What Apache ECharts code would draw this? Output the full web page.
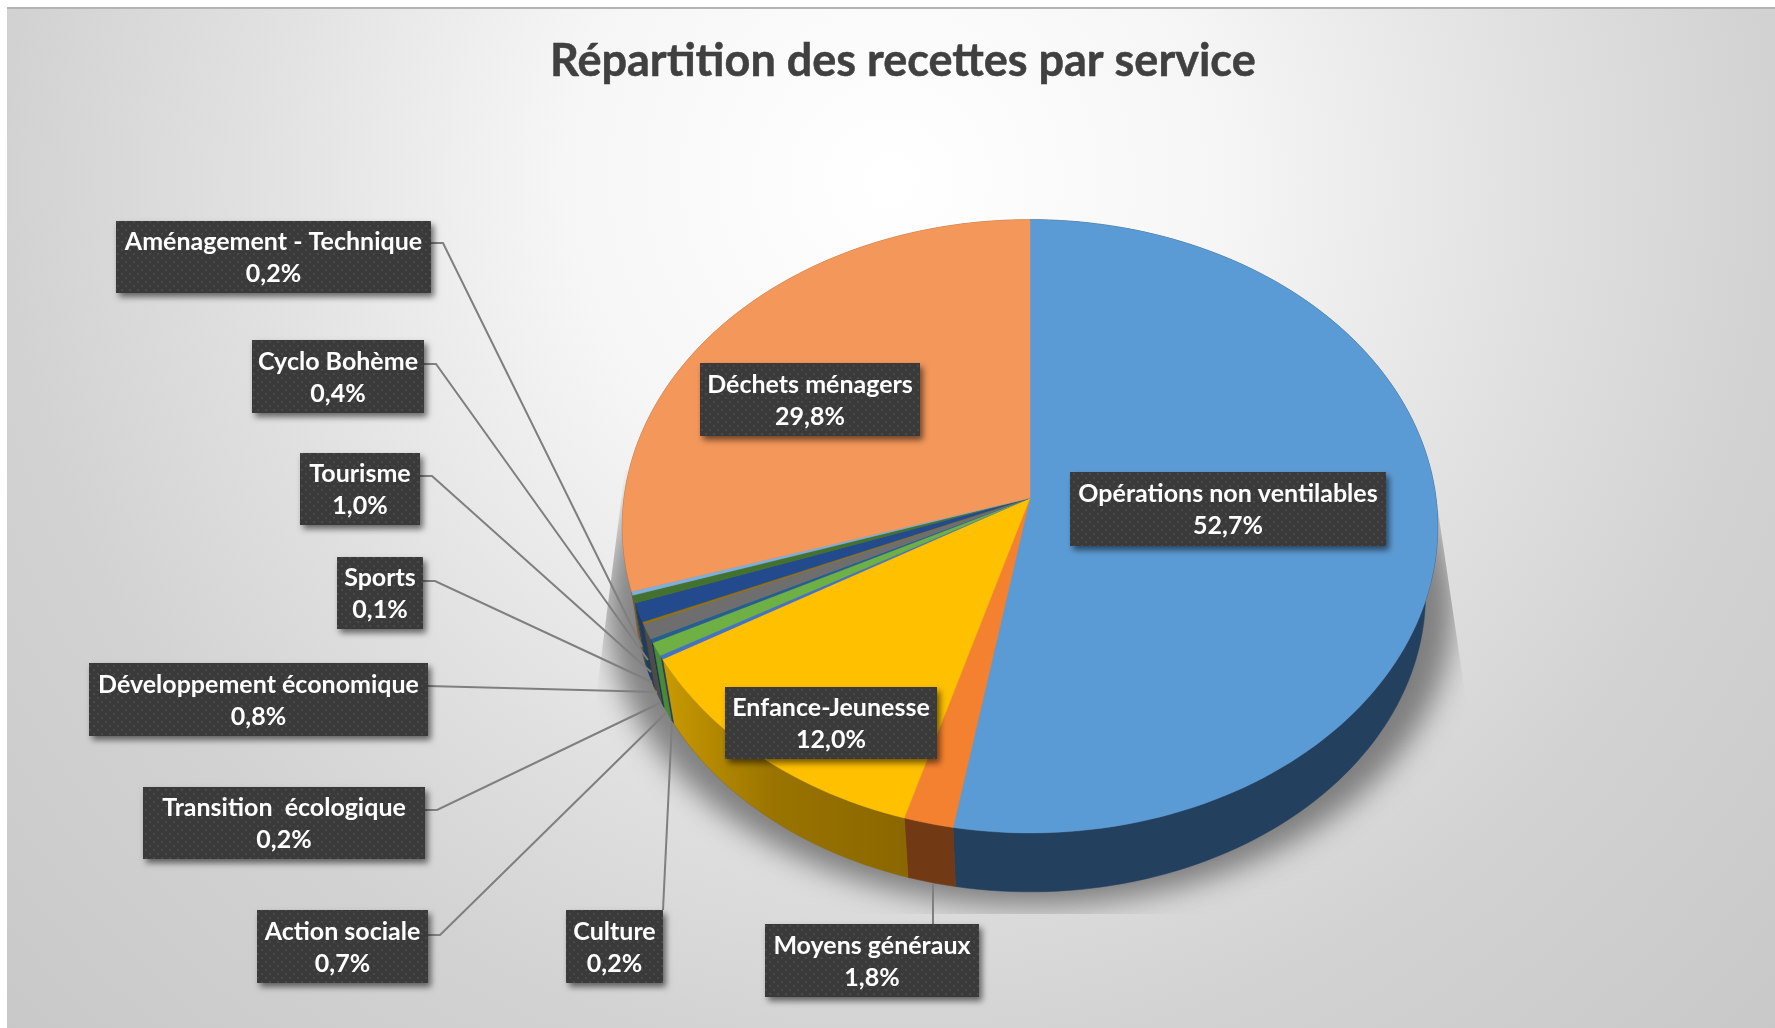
<!DOCTYPE html>
<html lang="fr"><head><meta charset="utf-8">
<style>html,body{margin:0;padding:0;background:#fff}#c{width:1775px;height:1028px}</style>
<script src="https://cdn.jsdelivr.net/npm/echarts@6/dist/echarts.min.js"></script></head>
<body><div id="c"></div>
<script>
const chartTitle = 'Répartition des recettes par service';
const categories = ['Opérations non ventilables','Moyens généraux','Enfance-Jeunesse','Culture','Action sociale','Transition  écologique','Développement économique','Sports','Tourisme','Cyclo Bohème','Aménagement - Technique','Déchets ménagers'];
const shares = [52.7,1.8,12.0,0.2,0.7,0.2,0.8,0.1,1.0,0.4,0.2,29.8];
const topColors = ['#5B9BD5','#F4812F','#FFC000','#4472C4','#6FB044','#255E91','#6E6E6E','#997300','#234A8C','#43722E','#7CAFDD','#F4975A'];
const sideColors = ['#23415E','#713A14','#8F6C00','#223A66','#4A8A35','#14324F','#4C4C4C','#5A4400','#1E3A66','#2C4D1E','#44617D','#8A5533'];
// label layout: box [x0,y0,x1,y1], leader points
const boxes = [[1070,472,1386,546],[765,924,979,997],[725,687,937,759],[566,910,663,983],[257,910,428,983],[143,787,425,859],[89,663,428,736],[337,557,423,629],[300,453,420,525],[252,340,424,413],[116,221,431,293],[700,363,920,436]];
const leaders = [null,[[933,924],[933,883]],null,[[663,910],[672,722]],[[428,935],[440,935],[667,712]],[[425,810],[437,810],[660,703]],[[428,686],[657,692]],[[423,581],[435,581],[652,682]],[[420,476],[432,476],[651,672]],[[424,364],[436,364],[648,660]],[[431,243],[443,243],[642,647]],null];

// perspective projection of the pie disc
const CX=1030, CY=498, RX=406, A=258.1, C=-0.0923, K=0.97, VY=2796;
function rim(deg){const t=deg*Math.PI/180,u=Math.sin(t),v=-Math.cos(t),d=1+C*v;return [CX+RX*u/d,(A*v+CY)/d];}
function low(p){return [CX+K*(p[0]-CX),VY+K*(p[1]-VY)];}
function arc(a,b){const n=Math.max(2,Math.ceil((b-a)/1.5)),o=[];for(let i=0;i<=n;i++)o.push(rim(a+(b-a)*i/n));return o;}
const total=shares.reduce((s,v)=>s+v,0);
const starts=[];shares.reduce((s,v,i)=>{starts[i]=s;return s+v;},0);

const pat=document.createElement('canvas');pat.width=pat.height=8;
{const g=pat.getContext('2d');g.fillStyle='#3A3A3A';g.fillRect(0,0,8,8);g.fillStyle='#494949';g.fillRect(1,1,2,2);g.fillRect(5,5,2,2);}

// soft cast shadow behind the pie
const sh=document.createElement('canvas');sh.width=1775;sh.height=1028;
{const g=sh.getContext('2d');g.beginPath();
 [[625,470],[597,690],[590,914],[1500,914],[1466,700],[1432,470]].forEach((p,i)=>i?g.lineTo(p[0],p[1]):g.moveTo(p[0],p[1]));g.closePath();g.clip();
 g.filter='blur(14px)';g.fillStyle='rgba(70,70,70,0.62)';g.beginPath();
 for(let i=0;i<=360;i+=2){const q=low(rim(i));const x=CX+(q[0]-CX)*1.07,y=q[1]+14;i?g.lineTo(x,y):g.moveTo(x,y);}
 g.closePath();g.fill();}

function renderItem(params,api){
  const i=params.dataIndex, v=api.value(0);
  const a=starts[i]/total*360, b=(starts[i]+v)/total*360;
  const pts=arc(a,b), kids=[];
  const fill=i===2?new echarts.graphic.LinearGradient(0,0,1,0,[{offset:0,color:'#C99A00'},{offset:.45,color:'#9A7400'},{offset:1,color:'#8A6700'}]):sideColors[i];
  kids.push({type:'polygon',z2:1,shape:{points:pts.concat(pts.map(low).reverse())},style:{fill:fill,stroke:sideColors[i],lineWidth:.5},silent:true});
  kids.push({type:'polygon',z2:2,shape:{points:[[CX,CY]].concat(pts)},style:{fill:topColors[i],stroke:topColors[i],lineWidth:.4},silent:true});
  if(leaders[i])kids.push({type:'polyline',z2:3,shape:{points:leaders[i]},style:{fill:'none',stroke:'#7F7F7F',lineWidth:2},silent:true});
  const bx=boxes[i];
  kids.push({type:'rect',z2:4,shape:{x:bx[0],y:bx[1],width:bx[2]-bx[0],height:bx[3]-bx[1]},style:{fill:{image:pat,repeat:'repeat'},shadowBlur:6,shadowOffsetX:3,shadowOffsetY:4,shadowColor:'rgba(0,0,0,.55)'},silent:true});
  kids.push({type:'text',z2:5,style:{text:categories[i]+'\n'+v.toFixed(1).replace('.',',')+'%',x:(bx[0]+bx[2])/2,y:(bx[1]+bx[3])/2+1,align:'center',verticalAlign:'middle',fill:'#fff',font:'700 25px Lato',lineHeight:32},silent:true});
  return {type:'group',children:kids};
}
const chart=echarts.init(document.getElementById('c'),null,{renderer:'canvas'});
chart.setOption({
  animation:false,
  title:{text:chartTitle,left:545,top:34,textStyle:{fontFamily:'Lato',fontWeight:700,fontSize:45,color:'#404040',textBorderColor:'#404040',textBorderWidth:0.5}},
  graphic:[
    {type:'rect',z:-3,shape:{x:7,y:8,width:1768,height:1020},style:{fill:{type:'radial',x:890,y:180,r:1300,global:true,colorStops:[{offset:0,color:'#FFFFFF'},{offset:.25,color:'#F6F6F6'},{offset:.5,color:'#E0E0E0'},{offset:.68,color:'#D2D2D2'},{offset:1,color:'#C6C6C6'}]}}},
    {type:'rect',z:-2,shape:{x:7,y:7,width:1768,height:2},style:{fill:'#B4B4B4'}},
    {type:'image',z:-1,style:{image:sh,x:0,y:0,width:1775,height:1028}}
  ],
  series:[{type:'custom',coordinateSystem:'none',renderItem:renderItem,data:shares,silent:true,clip:false}]
});
</script></body></html>
